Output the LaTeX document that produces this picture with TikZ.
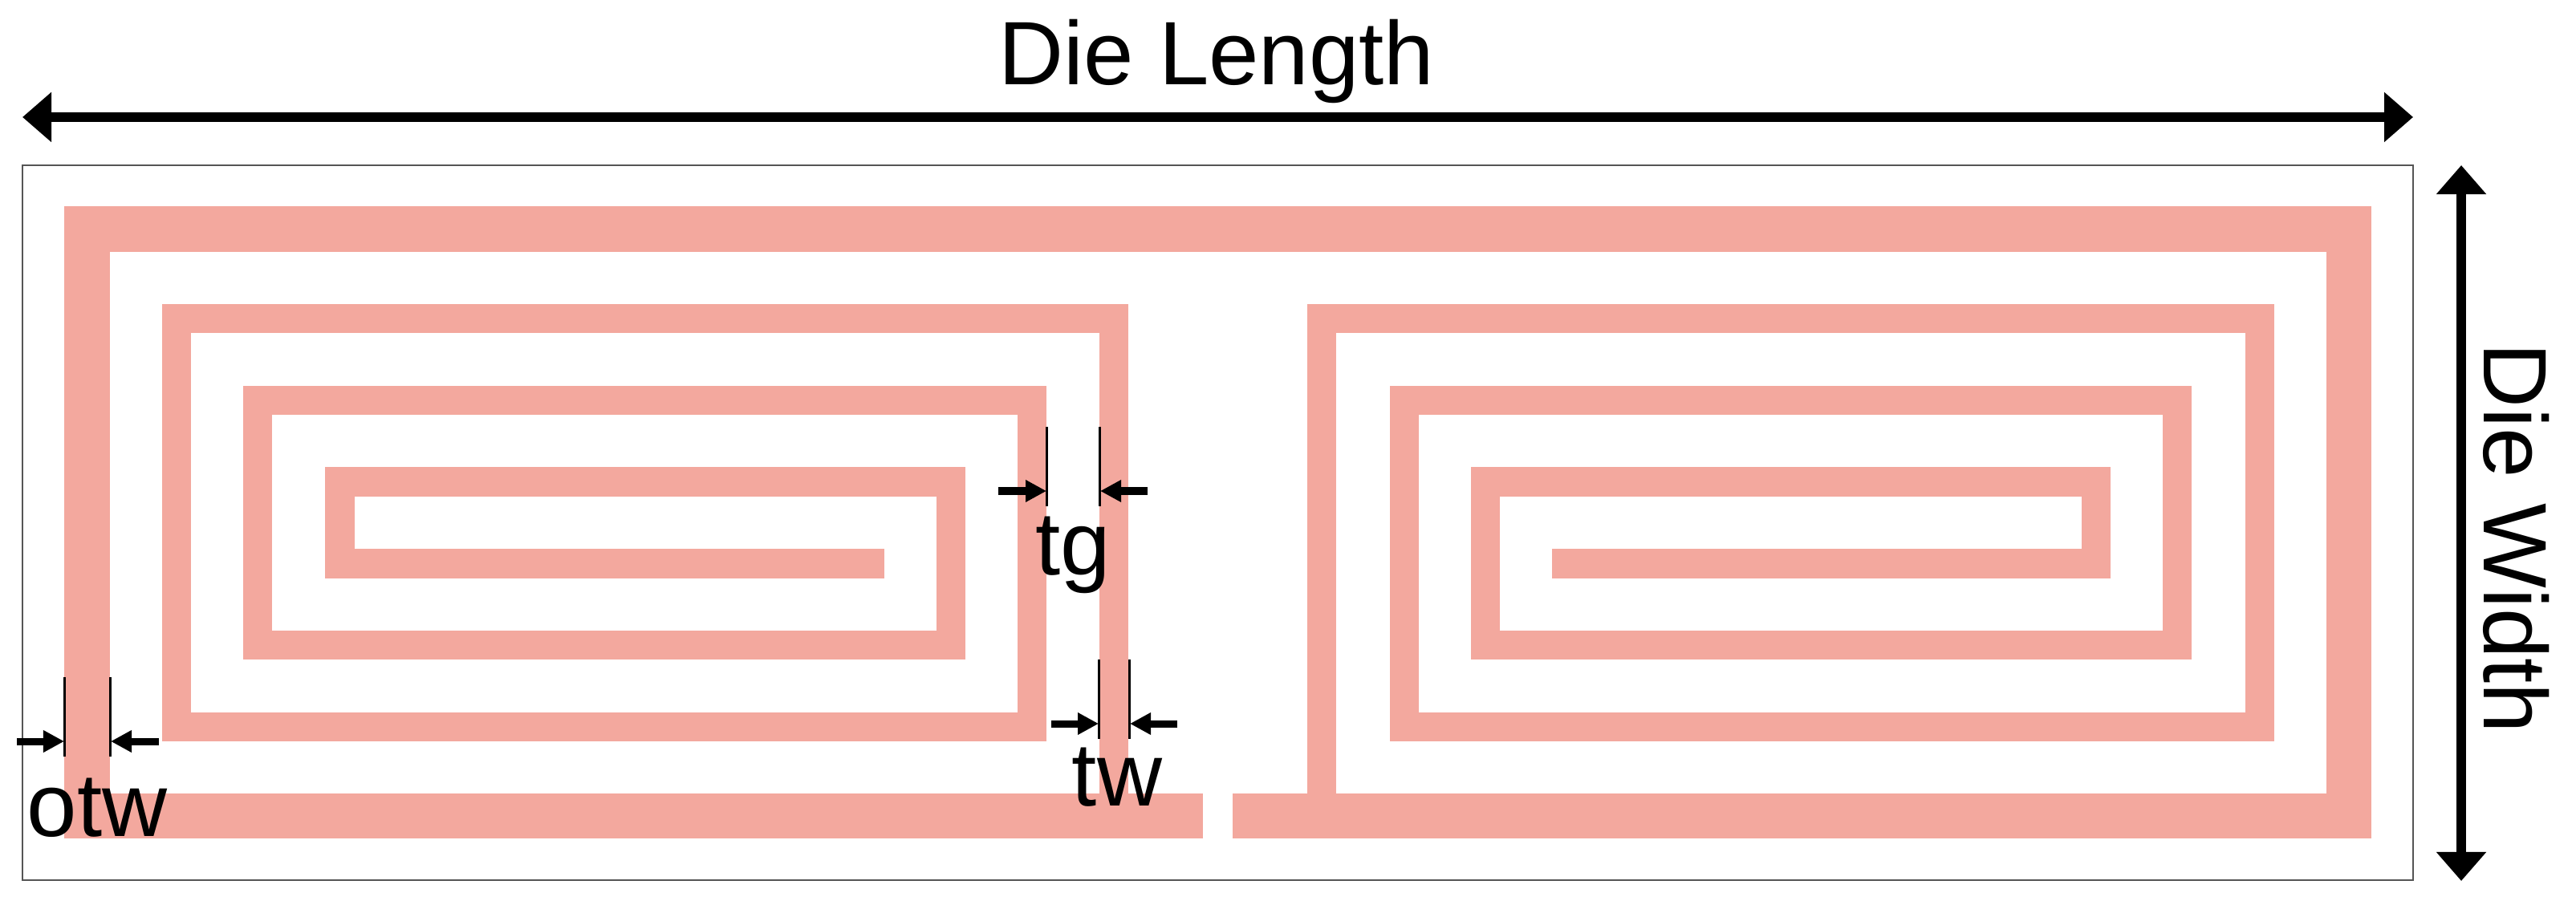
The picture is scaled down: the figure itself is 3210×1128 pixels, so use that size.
\documentclass[tikz,border=0pt]{standalone}
\usepackage{fontspec}
\setmainfont{Liberation Sans}
\usetikzlibrary{arrows.meta}
\usetikzlibrary{positioning}
\definecolor{tracered}{HTML}{F3A89E}
\definecolor{diegray}{HTML}{555555}
\tikzset{
    trace/.style={line width=.36cm, color=tracered},
    outertrace/.style={line width=.56cm, color=tracered},
    bigdim/.style={line width=.12cm, {Triangle[length=.36cm,width=.6cm]}-{Triangle[length=.36cm,width=.6cm]}},
    smalldim/.style={line width=.09cm, -{Triangle[length=.26cm,width=.26cm]}},
    dimtick/.style={line width=.03cm},
    dimlabel/.style={font=\fontsize{31.9}{36}\selectfont, inner sep=0pt, anchor=base}
}

\begin{document}
\begin{tikzpicture}[x=.01cm, y=-.01cm]
    \useasboundingbox (0,0) rectangle (3210,1128);

    \draw[line width=.018cm, diegray] (28,206) rectangle (3007,1097);

    % outer ring with the gap at the bottom
    \draw[outertrace] (1499,1017) -- (108.5,1017) -- (108.5,285.5) -- (2927,285.5) -- (2927,1017) -- (1536,1017);

    % left spiral
    \draw[trace] (1388,989) -- (1388,397) -- (220,397) -- (220,906) -- (1286,906) -- (1286,499)
        -- (321,499) -- (321,804) -- (1185,804) -- (1185,600.5) -- (423.5,600.5) -- (423.5,702.5) -- (1102,702.5);

    % right spiral
    \draw[trace] (1647,989) -- (1647,397) -- (2815.5,397) -- (2815.5,906) -- (1749.5,906) -- (1749.5,499)
        -- (2713,499) -- (2713,804) -- (1851,804) -- (1851,600.5) -- (2612,600.5) -- (2612,702.5) -- (1934,702.5);

    % die size
    \coordinate (lenleft) at (28,146);
    \coordinate (lenright) at (3007,146);
    \coordinate (widtop) at (3067,206);
    \coordinate (widbot) at (3067,1098);
    \draw[bigdim] (lenleft) -- (lenright);
    \draw[bigdim] (widtop) -- (widbot);
    \node[dimlabel] (dielength) at (1516,106) {Die Length};
    \node[dimlabel, rotate=-90] (diewidth) at (3095,671) {Die Width};

    % otw
    \draw[dimtick] (80.5,844) -- (80.5,943);
    \draw[dimtick] (137.5,844) -- (137.5,943);
    \coordinate (otwl) at (21,924);
    \coordinate (otwla) at (80,924);
    \coordinate (otwr) at (198,924);
    \coordinate (otwra) at (138,924);
    \draw[smalldim] (otwl) -- (otwla);
    \draw[smalldim] (otwr) -- (otwra);
    \node[dimlabel] (otw) at (121,1042) {otw};

    % tg
    \draw[dimtick] (1304,532) -- (1304,631);
    \draw[dimtick] (1370,532) -- (1370,631);
    \coordinate (tgl) at (1244,612);
    \coordinate (tgla) at (1304,612);
    \coordinate (tgr) at (1430,612);
    \coordinate (tgra) at (1371,612);
    \draw[smalldim] (tgl) -- (tgla);
    \draw[smalldim] (tgr) -- (tgra);
    \node[dimlabel] (tg) at (1337,716) {tg};

    % tw
    \draw[dimtick] (1369,822) -- (1369,921);
    \draw[dimtick] (1407,822) -- (1407,921);
    \coordinate (twl) at (1310,902);
    \coordinate (twla) at (1369,902);
    \coordinate (twr) at (1467,902);
    \coordinate (twra) at (1408,902);
    \draw[smalldim] (twl) -- (twla);
    \draw[smalldim] (twr) -- (twra);
    \node[dimlabel] (tw) at (1392,1004) {tw};
\end{tikzpicture}
\end{document}
